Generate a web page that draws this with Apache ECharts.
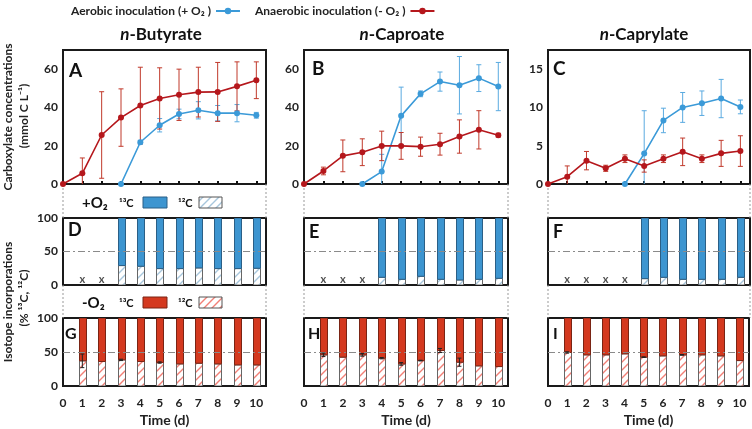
<!DOCTYPE html>
<html><head><meta charset="utf-8">
<script src="https://cdn.jsdelivr.net/npm/echarts@6/dist/echarts.min.js"></script>
<style>html,body{margin:0;padding:0;background:#fff}#c{width:752px;height:429px}</style>
</head><body><div id="c"></div>
<script>
// ---------- data ----------
const days = [0,1,2,3,4,5,6,7,8,9,10];
const xTickLabels = ['0','1','2','3','4','5','6','7','8','9','10'];
const panelTitles = ['Butyrate','Caproate','Caprylate'];
const aerName = 'Aerobic inoculation (+ O\u2082 )';
const anaName = 'Anaerobic inoculation (- O\u2082 )';

// concentrations (mmol C L-1)
const butyrateAna    = [0,5.6,25.6,34.7,41,44.7,46.6,48,48.1,51,54.2];
const butyrateAnaErr = [0,8,22.6,15,20,16,13.4,13,15.4,12.8,9.6];
const butyrateAer    = [null,null,null,0,21.8,30.7,36.6,38.5,37,37,35.9];
const butyrateAerErr = [null,null,null,0,1,3.5,2.5,4.5,4,4.5,1.5];

const caproateAna    = [0,6.8,14.7,16.6,19.9,19.9,19.5,20.8,24.8,28.3,25.5];
const caproateAnaErr = [0,2,8.3,7,7.7,7,5,5.7,8.7,10,1];
const caproateAer    = [null,null,null,0,6.5,35.6,47.1,53.5,51.6,55.3,50.9];
const caproateAerErr = [null,null,null,0,9,15,1.5,5,15,7,12.6];

const caprylateAna    = [0,0.96,3.05,2.05,3.3,2.35,3.3,4.2,3.3,4.0,4.3];
const caprylateAnaErr = [0,1.4,1.2,0.4,0.5,0.8,0.5,1.8,0.5,1.7,2.0];
const caprylateAer    = [null,null,null,null,0,3.97,8.3,10,10.55,11.16,10.07];
const caprylateAerErr = [null,null,null,null,0,5.6,1.6,1.95,1.6,2.5,0.9];

const concMax = [70,70,17.5];
const concInterval = [20,20,5];

// isotope incorporation: 12C share (%), 13C = 100 - 12C (stacked on top)
const aerButyrate12C  = [null,null,null,29,28,24.5,24.5,25.5,24.5,24.5,25];
const aerCaproate12C  = [null,null,null,null,11.5,8.5,13,8.5,7.5,8.5,10];
const aerCaprylate12C = [null,null,null,null,null,9.5,11.5,8.5,8.5,8.5,11.5];
const anaButyrate12C  = [null,37,36,38.4,36,34.5,32.5,33.5,32.5,31,31];
const anaCaproate12C  = [null,45.8,42.4,45.8,40.9,32.5,37.4,52.2,35,29.6,28.6];
const anaCaprylate12C = [null,49.3,45.8,45.8,47.3,42.4,44.3,45.8,45.8,44.3,37.4];
const anaButyrate12CErr  = [null,10,0,1,0,1,0,0,0,0,0];
const anaCaproate12CErr  = [null,2.5,0,2,1,2,0.5,3,6,0,0];
const anaCaprylate12CErr = [null,1,0,0,0,0.5,0,0.5,0,0,0];
const noDataDays = [[1,2],[1,2,3],[1,2,3,4]];
const letters = ['A','B','C','D','E','F','G','H','I'];

// ---------- styling ----------
const FONT = 'Lato, "Noto Sans", "DejaVu Sans", sans-serif';
const BLUE = '#3b9ad8', RED = '#b5171c';
const BAR_BLUE = '#3d95d0', BAR_RED = '#d4391f';
const cols = [{left:63,width:203},{left:304,width:204},{left:548,width:202}];
const rows = [{top:50,height:134},{top:218,height:67},{top:318,height:68}];

function hatch(color){
  const c = document.createElement('canvas'); c.width = 8; c.height = 8;
  const g = c.getContext('2d');
  g.fillStyle = '#fff'; g.fillRect(0,0,8,8);
  g.strokeStyle = color; g.lineWidth = 1.4;
  g.beginPath();
  g.moveTo(0,8); g.lineTo(8,0);
  g.moveTo(-2,2); g.lineTo(2,-2);
  g.moveTo(6,10); g.lineTo(10,6);
  g.stroke();
  return c;
}
const hatchBlue = {image: hatch('#a7c6dc'), repeat: 'repeat'};
const hatchRed  = {image: hatch('#f27f76'), repeat: 'repeat'};

function pairs(vals){ return days.map((d,i)=> vals[i]==null ? null : [d, vals[i]]).filter(Boolean); }
function errPairs(vals, errs){
  return days.map((d,i)=> (vals[i]==null||errs[i]==null||errs[i]===0) ? null : [d, vals[i]-errs[i], vals[i]+errs[i]]).filter(Boolean);
}
function errRender(color, w){
  return function(params, api){
    const x = api.value(0), lo = api.value(1), hi = api.value(2);
    const a = api.coord([x, hi]), b = api.coord([x, lo]);
    const st = {stroke: color, lineWidth: 1};
    return {type:'group', children:[
      {type:'line', shape:{x1:a[0],y1:a[1],x2:b[0],y2:b[1]}, style:st},
      {type:'line', shape:{x1:a[0]-w,y1:a[1],x2:a[0]+w,y2:a[1]}, style:st},
      {type:'line', shape:{x1:b[0]-w,y1:b[1],x2:b[0]+w,y2:b[1]}, style:st}
    ]};
  };
}
// stacked bar segment: value(0)=day, value(1)=bottom, value(2)=top
function segRender(fill, stroke){
  return function(params, api){
    const x = api.value(0), lo = api.value(1), hi = api.value(2);
    const a = api.coord([x, hi]), b = api.coord([x, lo]);
    const w = 7;
    return {type:'rect', shape:{x: Math.round(a[0]-w/2)+0.5, y: a[1], width: w, height: b[1]-a[1]},
      style:{fill: fill, stroke: stroke, lineWidth: 1}};
  };
}

const grids = [], xAxes = [], yAxes = [], series = [], graphics = [];
const labelStyle = {fontFamily: FONT, fontWeight: 'bold', fontSize: 12, color: '#222'};

for (let r = 0; r < 3; r++) {
  for (let c = 0; c < 3; c++) {
    const gi = r*3 + c;
    grids.push({left: cols[c].left, width: cols[c].width, top: rows[r].top, height: rows[r].height,
      show: true, borderColor: '#1a1a1a', borderWidth: 2, backgroundColor: 'transparent'});
    xAxes.push({type:'value', gridIndex: gi, min: 0, max: 10.5, interval: 1,
      axisLine:{show:false}, splitLine:{show:false},
      axisTick: r === 0 ? {show:true, inside:true, length:3, lineStyle:{color:'#111', width:2}} : {show:false},
      axisLabel: r === 2 ? Object.assign({show:true, margin:11, formatter: v => Number.isInteger(v) ? xTickLabels[v] : ''}, labelStyle) : {show:false},
      name: r === 2 ? 'Time (d)' : '', nameLocation:'middle', nameGap: 27,
      nameTextStyle: {fontFamily: FONT, fontWeight:'bold', fontSize: 14, color:'#222'}
    });
    if (r === 0) {
      const iv = concInterval[c];
      yAxes.push({type:'value', gridIndex: gi, min:0, max: concMax[c], interval: iv,
        axisLine:{show:false}, splitLine:{show:false}, axisTick:{show:false},
        axisLabel: Object.assign({margin:5, formatter: v => (Math.abs(v/iv - Math.round(v/iv))<1e-9 && v < concMax[c]) ? String(v) : ''}, labelStyle)});
    } else {
      yAxes.push({type:'value', gridIndex: gi, min:0, max:100, interval:50,
        axisLine:{show:false}, splitLine:{show:false}, axisTick:{show:false},
        axisLabel: c === 0 ? Object.assign({margin:5}, labelStyle) : {show:false}});
    }
  }
}

// line panels
const concSets = [
  [butyrateAer, butyrateAerErr, butyrateAna, butyrateAnaErr],
  [caproateAer, caproateAerErr, caproateAna, caproateAnaErr],
  [caprylateAer, caprylateAerErr, caprylateAna, caprylateAnaErr]
];
concSets.forEach((s, c) => {
  const gi = c;
  series.push({type:'custom', name:'errAer'+c, xAxisIndex:gi, yAxisIndex:gi, clip:true,
    renderItem: errRender('#5aaae0', 2.5), encode:{x:0, y:[1,2]}, data: errPairs(s[0], s[1]), z:2, silent:true});
  series.push({type:'custom', name:'errAna'+c, xAxisIndex:gi, yAxisIndex:gi, clip:true,
    renderItem: errRender('#c0392b', 2.5), encode:{x:0, y:[1,2]}, data: errPairs(s[2], s[3]), z:2, silent:true});
  series.push({type:'line', name: aerName, xAxisIndex:gi, yAxisIndex:gi, data: pairs(s[0]),
    symbol:'circle', symbolSize:6, showSymbol:true, color: BLUE, lineStyle:{width:1.6, color: BLUE}, itemStyle:{color: BLUE}, z:3, animation:false});
  series.push({type:'line', name: anaName, xAxisIndex:gi, yAxisIndex:gi, data: pairs(s[2]),
    symbol:'circle', symbolSize:6, showSymbol:true, color: RED, lineStyle:{width:1.6, color: RED}, itemStyle:{color: RED}, z:4, animation:false});
});

// bar panels (12C bottom segment, 13C top segment up to 100)
const barSets = [
  [aerButyrate12C, aerCaproate12C, aerCaprylate12C],
  [anaButyrate12C, anaCaproate12C, anaCaprylate12C]
];
const barErrs = [anaButyrate12CErr, anaCaproate12CErr, anaCaprylate12CErr];
barSets.forEach((set, k) => {
  const r = k + 1;
  set.forEach((vals, c) => {
    const gi = r*3 + c;
    const d12 = pairs(vals).map(p => [p[0], 0, p[1]]);
    const d13 = pairs(vals).map(p => [p[0], p[1], 100]);
    series.push({type:'line', name:'ref'+gi, xAxisIndex:gi, yAxisIndex:gi, data:[], silent:true,
      markLine:{silent:true, symbol:'none', label:{show:false}, data:[{yAxis:50}],
        lineStyle:{color:'#8a8a8a', width:1, type:[7,3,2,3]}}, z:1});
    series.push({type:'custom', name:'12C_'+gi, xAxisIndex:gi, yAxisIndex:gi, clip:true,
      renderItem: segRender(k===0 ? hatchBlue : hatchRed, '#666'), encode:{x:0, y:[1,2]}, data:d12, z:3, silent:true});
    series.push({type:'custom', name:'13C_'+gi, xAxisIndex:gi, yAxisIndex:gi, clip:true,
      renderItem: segRender(k===0 ? BAR_BLUE : BAR_RED, k===0 ? '#2b5f86' : '#7a2414'), encode:{x:0, y:[1,2]}, data:d13, z:3, silent:true});
    if (k === 0) {
      series.push({type:'scatter', name:'nd'+gi, xAxisIndex:gi, yAxisIndex:gi, symbolSize:1,
        itemStyle:{color:'rgba(0,0,0,0)'}, data: noDataDays[c].map(d => [d, 8]),
        label:{show:true, position:'inside', formatter:'x', fontFamily:FONT, fontSize:11, fontWeight:'bold', color:'#222'}, silent:true, animation:false});
    } else {
      series.push({type:'custom', name:'errBar'+gi, xAxisIndex:gi, yAxisIndex:gi, clip:true,
        renderItem: errRender('#222', 2), encode:{x:0, y:[1,2]}, data: errPairs(vals, barErrs[c]), z:5, silent:true});
    }
  });
});

// titles
const titleX = [161, 402, 644];
panelTitles.forEach((t, c) => {
  graphics.push({type:'text', x: titleX[c], y: 35, style:{text:'{i|n}-'+t, fontFamily:FONT, fontSize:17, fontWeight:'bold', fill:'#111',
    textAlign:'center', textVerticalAlign:'middle', rich:{i:{fontStyle:'italic', fontFamily:FONT, fontSize:17, fontWeight:'bold', fill:'#111'}}}});
});
// panel letters
const letterPos = [[69,71],[312,69],[553,69],[68,230],[309,232],[553,232],[65,334],[308,334],[553,334]];
const letterSize = [19,19,19,18,18,18,16,16,16];
letters.forEach((L,i) => {
  graphics.push({type:'text', x:letterPos[i][0], y:letterPos[i][1], z:10, style:{text:L, fontFamily:FONT, fontWeight:'bold', fontSize:letterSize[i], fill:'#111', textVerticalAlign:'middle'}});
});
// y titles
const yTitleStyle = {fontFamily:FONT, fontWeight:'bold', fontSize:12, fill:'#222', textAlign:'center', textVerticalAlign:'middle'};
[['Carboxylate concentrations',8,117],['(mmol C L\u207B\u00B9)',24,116],['Isotope incorporations',8,302],['(% \u00B9\u00B3C, \u00B9\u00B2C)',24,298]].forEach(t => {
  graphics.push({type:'text', x:t[1], y:t[2], rotation:Math.PI/2, style:Object.assign({text:t[0]}, yTitleStyle)});
});
// bar legends
[[203,'+O\u2082',BAR_BLUE,'#2b5f86',hatchBlue],[303,'-O\u2082',BAR_RED,'#7a2414',hatchRed]].forEach(L => {
  const y = L[0];
  graphics.push({type:'text', x:82, y:y, style:{text:L[1], fontFamily:FONT, fontWeight:'bold', fontSize:15, fill:'#111', textVerticalAlign:'middle'}});
  graphics.push({type:'text', x:119, y:y, style:{text:'\u00B9\u00B3C', fontFamily:FONT, fontWeight:'bold', fontSize:11, fill:'#111', textVerticalAlign:'middle'}});
  graphics.push({type:'rect', shape:{x:143, y:y-6, width:24, height:11}, style:{fill:L[2], stroke:L[3], lineWidth:1}});
  graphics.push({type:'text', x:178, y:y, style:{text:'\u00B9\u00B2C', fontFamily:FONT, fontWeight:'bold', fontSize:11, fill:'#111', textVerticalAlign:'middle'}});
  graphics.push({type:'rect', shape:{x:199, y:y-6, width:23, height:11}, style:{fill:L[4], stroke:'#555', lineWidth:1}});
});
// dotted connectors
cols.forEach(cc => {
  [cc.left, cc.left + cc.width].forEach(x => {
    [[184,218],[285,318]].forEach(seg => {
      graphics.push({type:'line', shape:{x1:x, y1:seg[0], x2:x, y2:seg[1]}, style:{stroke:'#999', lineWidth:1, lineDash:[2,2]}});
    });
  });
});

const chart = echarts.init(document.getElementById('c'), null, {renderer:'canvas'});
chart.setOption({
  animation:false,
  backgroundColor:'#fff',
  legend:{show:true, data:[aerName, anaName], left:66, top:0, align:'right', itemWidth:24, itemHeight:8, itemGap:14,
    textStyle:{fontFamily:FONT, fontWeight:'bold', fontSize:12, color:'#222'}},
  grid: grids, xAxis: xAxes, yAxis: yAxes, series: series, graphic: graphics
});
</script></body></html>
